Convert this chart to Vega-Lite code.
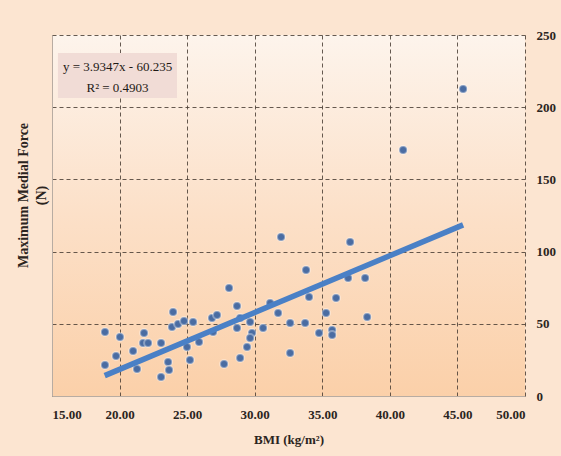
{
  "$schema": "https://vega.github.io/schema/vega-lite/v6.json",
  "width": 473,
  "height": 361,
  "autosize": "none",
  "padding": {"left": 52, "top": 35, "right": 36, "bottom": 60},
  "background": "#fce5d1",
  "config": {
    "font": "Liberation Serif",
    "view": {
      "stroke": null,
      "fill": {"gradient": "linear", "x1": 0, "y1": 0, "x2": 0, "y2": 1,
        "stops": [{"offset": 0, "color": "#fdf4ec"}, {"offset": 0.5, "color": "#fce0c8"}, {"offset": 1, "color": "#fbd0a9"}]}
    }
  },
  "datasets": {
    "points": [
      {"bmi": 18.92, "force": 44.3}, {"bmi": 20.03, "force": 40.9}, {"bmi": 21.81, "force": 43.6},
      {"bmi": 21.74, "force": 36.7}, {"bmi": 22.11, "force": 36.7}, {"bmi": 21.0, "force": 31.2},
      {"bmi": 19.74, "force": 27.7}, {"bmi": 18.92, "force": 21.5}, {"bmi": 21.29, "force": 18.7},
      {"bmi": 23.07, "force": 36.7}, {"bmi": 23.07, "force": 13.2}, {"bmi": 23.59, "force": 23.5},
      {"bmi": 23.66, "force": 18.0}, {"bmi": 23.96, "force": 58.2}, {"bmi": 23.88, "force": 47.8},
      {"bmi": 24.33, "force": 49.9}, {"bmi": 24.77, "force": 51.9}, {"bmi": 24.99, "force": 33.9},
      {"bmi": 25.21, "force": 24.9}, {"bmi": 25.44, "force": 51.2}, {"bmi": 25.88, "force": 37.4},
      {"bmi": 26.84, "force": 54.0}, {"bmi": 27.21, "force": 56.1}, {"bmi": 26.92, "force": 44.3},
      {"bmi": 28.1, "force": 74.8}, {"bmi": 28.69, "force": 62.3}, {"bmi": 28.69, "force": 47.1},
      {"bmi": 28.92, "force": 54.0}, {"bmi": 29.66, "force": 51.2}, {"bmi": 29.8, "force": 43.6},
      {"bmi": 29.66, "force": 40.2}, {"bmi": 29.43, "force": 33.9}, {"bmi": 28.92, "force": 26.3},
      {"bmi": 27.73, "force": 22.2}, {"bmi": 30.62, "force": 47.1}, {"bmi": 31.14, "force": 64.4},
      {"bmi": 31.73, "force": 57.5}, {"bmi": 32.62, "force": 50.6}, {"bmi": 32.62, "force": 29.8},
      {"bmi": 31.95, "force": 110.1}, {"bmi": 33.73, "force": 50.6}, {"bmi": 33.8, "force": 87.3},
      {"bmi": 34.02, "force": 68.6}, {"bmi": 35.28, "force": 57.5}, {"bmi": 34.76, "force": 43.6},
      {"bmi": 35.73, "force": 45.7}, {"bmi": 35.73, "force": 42.2}, {"bmi": 36.02, "force": 67.9},
      {"bmi": 36.91, "force": 81.7}, {"bmi": 37.06, "force": 106.6}, {"bmi": 38.17, "force": 81.7},
      {"bmi": 38.32, "force": 54.7}, {"bmi": 40.98, "force": 170.4}, {"bmi": 45.42, "force": 212.6}
    ],
    "fit": [{"bmi": 18.9, "force": 14.1}, {"bmi": 45.42, "force": 118.5}]
  },
  "layer": [
    {
      "data": {"name": "points"},
      "mark": {"type": "point", "filled": true, "shape": "circle", "size": 64, "color": "#4a6ca2", "opacity": 1, "stroke": "#ffffff", "strokeOpacity": 0.35, "strokeWidth": 2},
      "encoding": {
        "x": {
          "field": "bmi", "type": "quantitative",
          "scale": {"domain": [15, 50], "nice": false, "zero": false},
          "axis": {
            "title": "BMI (kg/m²)", "values": [15, 20, 25, 30, 35, 40, 45, 50], "format": ".2f",
            "labelFont": "Liberation Serif", "labelFontWeight": "bold", "labelFontSize": 13, "labelColor": "#2b2420",
            "labelPadding": 12, "ticks": false, "domainColor": "#b8aca2", "domainWidth": 1,
            "grid": true, "gridColor": "#4a3e35", "gridDash": [4, 3], "gridOpacity": 0.85,
            "titleFont": "Liberation Serif", "titleFontWeight": "bold", "titleFontSize": 13, "titleColor": "#2b2420",
            "titlePadding": 12
          }
        },
        "y": {
          "field": "force", "type": "quantitative",
          "scale": {"domain": [0, 250], "nice": false},
          "axis": {
            "orient": "right", "title": null, "values": [0, 50, 100, 150, 200, 250],
            "labelFont": "Liberation Serif", "labelFontWeight": "bold", "labelFontSize": 13, "labelColor": "#2b2420",
            "labelPadding": 11, "ticks": false, "domain": false,
            "grid": true, "gridColor": "#4a3e35", "gridDash": [4, 3], "gridOpacity": 0.85
          }
        }
      }
    },
    {
      "data": {"name": "fit"},
      "mark": {"type": "line", "color": "#4a80c6", "strokeWidth": 5.5, "strokeCap": "butt"},
      "encoding": {
        "x": {"field": "bmi", "type": "quantitative"},
        "y": {
          "field": "force", "type": "quantitative",
          "axis": {
            "orient": "left", "title": ["Maximum Medial Force", "(N)"], "labels": false, "ticks": false,
            "grid": false, "domainColor": "#b8aca2",
            "titleFont": "Liberation Serif", "titleFontWeight": "bold", "titleFontSize": 14, "titleColor": "#2b2420",
            "titleLineHeight": 18, "titleBaseline": "top", "titleX": -36, "titleY": 160, "titleAngle": -90
          }
        }
      }
    },
    {
      "data": {"values": [{"eq": "y = 3.9347x - 60.235"}]},
      "mark": {"type": "rect", "color": "#f1dcd6"},
      "encoding": {
        "x": {"datum": 15.44, "type": "quantitative"},
        "x2": {"datum": 24.25},
        "y": {"datum": 237.5, "type": "quantitative", "axis": null},
        "y2": {"datum": 206.4}
      }
    },
    {
      "data": {"values": [{"eq": "y = 3.9347x - 60.235", "r2": "R² = 0.4903"}]},
      "mark": {"type": "text", "font": "Liberation Serif", "fontSize": 13, "color": "#1e1915", "baseline": "middle", "align": "center"},
      "encoding": {
        "text": {"field": "eq"},
        "x": {"datum": 19.85, "type": "quantitative"},
        "y": {"datum": 227.5, "type": "quantitative", "axis": null}
      }
    },
    {
      "data": {"values": [{"eq": "y = 3.9347x - 60.235", "r2": "R² = 0.4903"}]},
      "mark": {"type": "text", "font": "Liberation Serif", "fontSize": 13, "color": "#1e1915", "baseline": "middle", "align": "center"},
      "encoding": {
        "text": {"field": "r2"},
        "x": {"datum": 19.85, "type": "quantitative"},
        "y": {"datum": 213.5, "type": "quantitative", "axis": null}
      }
    }
  ],
  "resolve": {"axis": {"y": "independent"}}
}
